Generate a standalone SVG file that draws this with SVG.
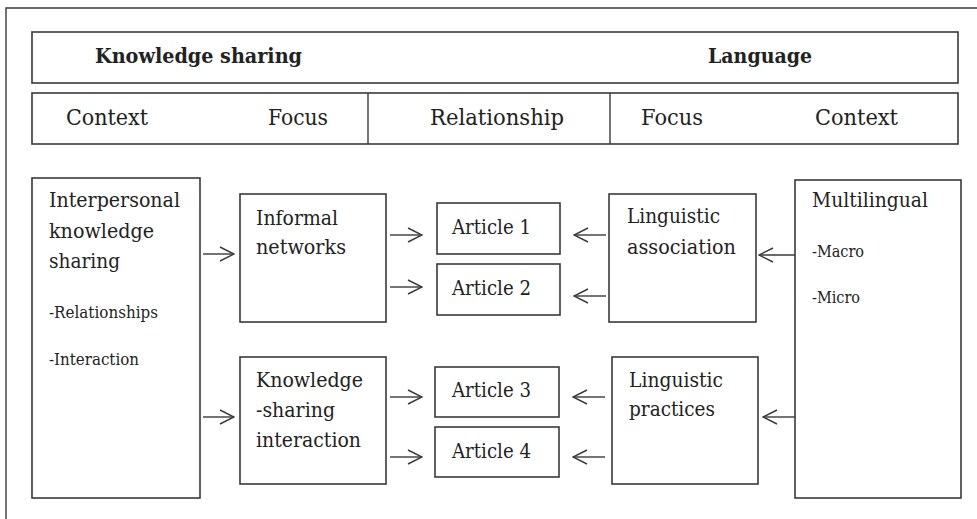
<svg xmlns="http://www.w3.org/2000/svg" width="977" height="519" viewBox="0 0 977 519">
<style>
.box{fill:#fff;stroke:#3a3a3a;stroke-width:1.6}
.t{font-family:"DejaVu Serif","Liberation Serif",serif;font-size:20px;fill:#222}
.h{font-size:21.5px}
.b{font-weight:bold;font-size:20px}
.s{font-size:16px}
.c{stroke:#3a3a3a;stroke-width:1.4;fill:none;marker-end:url(#ah)}
</style>
<defs>
<marker id="ah" viewBox="0 0 16 16" refX="15" refY="8" markerWidth="16" markerHeight="16" markerUnits="userSpaceOnUse" orient="auto">
<path d="M1,1 L15,8 L1,15" fill="none" stroke="#3a3a3a" stroke-width="1.4"/>
</marker>
</defs>
<rect x="0" y="0" width="977" height="519" fill="#fff"/>
<path d="M6,519 L6,8 L977,8" fill="none" stroke="#3a3a3a" stroke-width="1.4"/>

<g id="header-top">
<rect class="box" x="32" y="32" width="926" height="51"/>
<text class="t b" x="95" y="63" textLength="207" lengthAdjust="spacingAndGlyphs">Knowledge sharing</text>
<text class="t b" x="708" y="63" textLength="104" lengthAdjust="spacingAndGlyphs">Language</text>
</g>
<g id="header-sub">
<rect class="box" x="32" y="93" width="926" height="51"/>
<line x1="368" y1="93" x2="368" y2="144" stroke="#3a3a3a" stroke-width="1.4"/>
<line x1="610" y1="93" x2="610" y2="144" stroke="#3a3a3a" stroke-width="1.4"/>
<text class="t h" x="66" y="125" textLength="82" lengthAdjust="spacingAndGlyphs">Context</text>
<text class="t h" x="268" y="125" textLength="60" lengthAdjust="spacingAndGlyphs">Focus</text>
<text class="t h" x="430" y="125" textLength="134" lengthAdjust="spacingAndGlyphs">Relationship</text>
<text class="t h" x="641" y="125" textLength="62" lengthAdjust="spacingAndGlyphs">Focus</text>
<text class="t h" x="815" y="125" textLength="83" lengthAdjust="spacingAndGlyphs">Context</text>
</g>

<g id="interpersonal">
<rect class="box" x="32" y="178" width="168" height="320"/>
<text class="t" x="49" y="207" textLength="131" lengthAdjust="spacingAndGlyphs">Interpersonal</text>
<text class="t" x="49" y="238" textLength="105" lengthAdjust="spacingAndGlyphs">knowledge</text>
<text class="t" x="49" y="268" textLength="71" lengthAdjust="spacingAndGlyphs">sharing</text>
<text class="t s" x="49" y="318" textLength="109" lengthAdjust="spacingAndGlyphs">-Relationships</text>
<text class="t s" x="49" y="365" textLength="90" lengthAdjust="spacingAndGlyphs">-Interaction</text>
</g>
<g id="informal-networks">
<rect class="box" x="240" y="194" width="146" height="128"/>
<text class="t" x="256" y="225" textLength="82" lengthAdjust="spacingAndGlyphs">Informal</text>
<text class="t" x="256" y="254" textLength="90" lengthAdjust="spacingAndGlyphs">networks</text>
</g>
<g id="ks-interaction">
<rect class="box" x="240" y="357" width="146" height="127"/>
<text class="t" x="256" y="387" textLength="107" lengthAdjust="spacingAndGlyphs">Knowledge</text>
<text class="t" x="256" y="417" textLength="79" lengthAdjust="spacingAndGlyphs">-sharing</text>
<text class="t" x="256" y="447" textLength="105" lengthAdjust="spacingAndGlyphs">interaction</text>
</g>
<g id="article1">
<rect class="box" x="437" y="203" width="123" height="51"/>
<text class="t" x="452" y="234" textLength="79" lengthAdjust="spacingAndGlyphs">Article 1</text>
</g>
<g id="article2">
<rect class="box" x="437" y="264" width="123" height="51"/>
<text class="t" x="452" y="295" textLength="79" lengthAdjust="spacingAndGlyphs">Article 2</text>
</g>
<g id="article3">
<rect class="box" x="435" y="367" width="124" height="50"/>
<text class="t" x="452" y="397" textLength="79" lengthAdjust="spacingAndGlyphs">Article 3</text>
</g>
<g id="article4">
<rect class="box" x="435" y="427" width="124" height="50"/>
<text class="t" x="452" y="458" textLength="79" lengthAdjust="spacingAndGlyphs">Article 4</text>
</g>
<g id="ling-association">
<rect class="box" x="609" y="194" width="147" height="128"/>
<text class="t" x="627" y="223" textLength="93" lengthAdjust="spacingAndGlyphs">Linguistic</text>
<text class="t" x="627" y="254" textLength="109" lengthAdjust="spacingAndGlyphs">association</text>
</g>
<g id="ling-practices">
<rect class="box" x="612" y="357" width="146" height="127"/>
<text class="t" x="629" y="387" textLength="94" lengthAdjust="spacingAndGlyphs">Linguistic</text>
<text class="t" x="629" y="416" textLength="86" lengthAdjust="spacingAndGlyphs">practices</text>
</g>
<g id="multilingual">
<rect class="box" x="795" y="180" width="166" height="318"/>
<text class="t" x="812" y="207" textLength="116" lengthAdjust="spacingAndGlyphs">Multilingual</text>
<text class="t s" x="812" y="257" textLength="52" lengthAdjust="spacingAndGlyphs">-Macro</text>
<text class="t s" x="812" y="303" textLength="48" lengthAdjust="spacingAndGlyphs">-Micro</text>
</g>

<g id="connectors">
<line class="c" x1="203" y1="254" x2="234" y2="254"/>
<line class="c" x1="203" y1="417" x2="234" y2="417"/>
<line class="c" x1="390" y1="235" x2="422" y2="235"/>
<line class="c" x1="390" y1="287" x2="422" y2="287"/>
<line class="c" x1="390" y1="397" x2="422" y2="397"/>
<line class="c" x1="390" y1="457" x2="422" y2="457"/>
<line class="c" x1="606" y1="235" x2="574" y2="235"/>
<line class="c" x1="606" y1="296" x2="574" y2="296"/>
<line class="c" x1="605" y1="397" x2="573" y2="397"/>
<line class="c" x1="605" y1="457" x2="573" y2="457"/>
<line class="c" x1="795" y1="255" x2="759" y2="255"/>
<line class="c" x1="795" y1="417" x2="763" y2="417"/>
</g>
</svg>
